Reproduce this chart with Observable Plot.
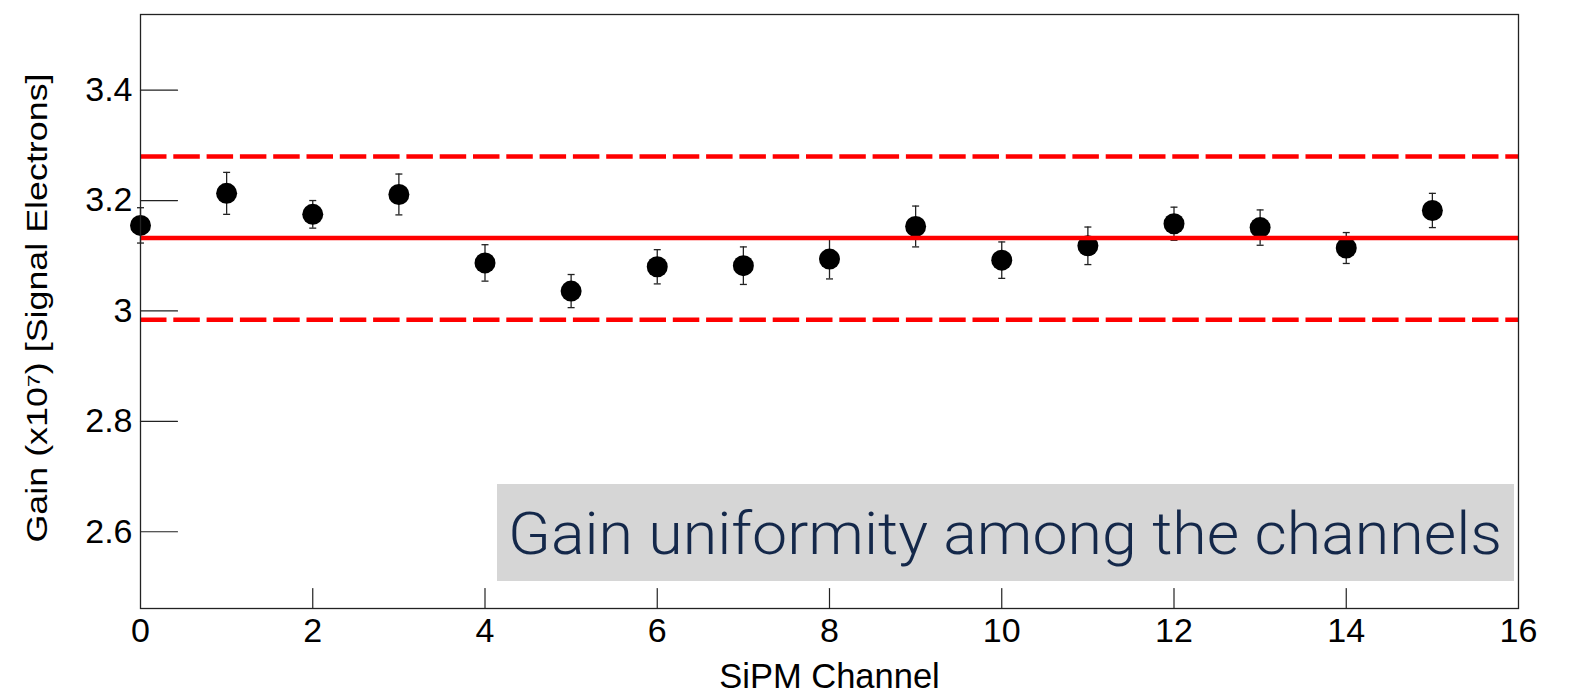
<!DOCTYPE html>
<html>
<head>
<meta charset="utf-8">
<script src="https://cdn.jsdelivr.net/npm/d3@7"></script>
<script src="https://cdn.jsdelivr.net/npm/@observablehq/plot@0.6"></script>
<style>
  html, body { margin: 0; padding: 0; background: #fff; }
  #wrap { position: relative; width: 1569px; height: 693px; }
  #note { position: absolute; left: 497px; top: 484px; }
</style>
</head>
<body>
<div id="wrap"></div>
<script>
// ---- data ----
const channels = [0, 1, 2, 3, 4, 5, 6, 7, 8, 9, 10, 11, 12, 13, 14, 15];
const gain = [3.155, 3.213, 3.175, 3.211, 3.087, 3.036, 3.080, 3.082, 3.094, 3.153, 3.092, 3.118, 3.158, 3.151, 3.114, 3.182];
const gainErr = [0.032, 0.038, 0.025, 0.037, 0.033, 0.030, 0.031, 0.034, 0.036, 0.037, 0.033, 0.034, 0.030, 0.032, 0.028, 0.031];
const meanGain = 3.132;
const bandLines = [2.984, 3.280];
const xTicks = [0, 2, 4, 6, 8, 10, 12, 14, 16];
const yTicks = [2.6, 2.8, 3.0, 3.2, 3.4];
const yTickLabels = ["2.6", "2.8", "3", "3.2", "3.4"];
const xLabel = "SiPM Channel";
const yLabel = "Gain (x10\u2077) [Signal Electrons]";
const noteText = "Gain uniformity among the channels";

const rows = channels.map((c, i) => ({channel: c, gain: gain[i], lo: gain[i] - gainErr[i], hi: gain[i] + gainErr[i]}));

const lineShape = {draw(context, l) { context.moveTo(0, 0); context.lineTo(0, -l); }};
const capSymbol = {draw(context, size) { const r = 3.5; context.moveTo(-r, 0); context.lineTo(r, 0); }};

const font = "'Liberation Sans', Arial, Helvetica, sans-serif";

const chart = Plot.plot({
  width: 1569,
  height: 693,
  marginLeft: 140,
  marginRight: 51,
  marginTop: 14,
  marginBottom: 85,
  style: {fontFamily: font, fontSize: "34px", color: "#000", background: "#fff"},
  x: {domain: [0, 16]},
  y: {domain: [2.461, 3.537]},
  marks: [
    Plot.axisY(yTicks, {tickSize: 0, tickPadding: 8, tickFormat: (d, i) => yTickLabels[i], label: null, fontSize: 34}),
    Plot.axisX(xTicks, {tickSize: 0, tickPadding: 9, tickFormat: d => String(d), label: null, fontSize: 34}),
    Plot.vector(yTicks, {y: d => d, frameAnchor: "left", length: 37, rotate: 90, anchor: "start", shape: lineShape, stroke: "#222", strokeWidth: 1.2}),
    Plot.vector(xTicks.slice(1, -1), {x: d => d, frameAnchor: "bottom", length: 20, rotate: 0, anchor: "start", shape: lineShape, stroke: "#222", strokeWidth: 1.2}),
    Plot.text([xLabel], {frameAnchor: "bottom", textAnchor: "middle", dy: 55, lineAnchor: "top", fontSize: 34.5, fill: "#000"}),
    Plot.text([yLabel], {frameAnchor: "left", textAnchor: "middle", rotate: -90, dx: -94, dy: -3.5, lineAnchor: "bottom", fontSize: 29, fill: "#000", className: "ylabel"}),
    Plot.ruleX(rows, {x: "channel", y1: "lo", y2: "hi", stroke: "#222", strokeWidth: 1.3}),
    Plot.dot(rows, {x: "channel", y: "lo", symbol: capSymbol, stroke: "#222", strokeWidth: 1.3, r: 4}),
    Plot.dot(rows, {x: "channel", y: "hi", symbol: capSymbol, stroke: "#222", strokeWidth: 1.3, r: 4}),
    Plot.dot(rows, {x: "channel", y: "gain", r: 10.5, fill: "#000", stroke: "none"}),
    Plot.ruleY([meanGain], {stroke: "#ff0000", strokeWidth: 4.5}),
    Plot.ruleY(bandLines, {stroke: "#ff0000", strokeWidth: 4.5, strokeDasharray: "26.5,6.8"}),
    Plot.frame({stroke: "#222", strokeWidth: 1.3})
  ]
});

// the reference's rotated label is stretched along its length
chart.querySelectorAll(".ylabel text").forEach(el => {
  el.setAttribute("textLength", "469");
  el.setAttribute("lengthAdjust", "spacingAndGlyphs");
});

const wrap = document.getElementById("wrap");
wrap.appendChild(chart);

// annotation overlay
const ns = "http://www.w3.org/2000/svg";
const note = document.createElementNS(ns, "svg");
note.setAttribute("id", "note");
note.setAttribute("width", 1017);
note.setAttribute("height", 97);
const rect = document.createElementNS(ns, "rect");
rect.setAttribute("width", 1017);
rect.setAttribute("height", 97);
rect.setAttribute("fill", "#d6d6d6");
note.appendChild(rect);
const t = document.createElementNS(ns, "text");
t.setAttribute("x", 11);
t.setAttribute("y", 70);
t.setAttribute("font-family", "Roboto, 'Open Sans', sans-serif");
t.setAttribute("font-weight", "300");
t.setAttribute("font-size", "60");
t.setAttribute("fill", "#14284a");
t.setAttribute("textLength", "994");
t.setAttribute("lengthAdjust", "spacingAndGlyphs");
t.textContent = noteText;
note.appendChild(t);
wrap.appendChild(note);
</script>
</body>
</html>
